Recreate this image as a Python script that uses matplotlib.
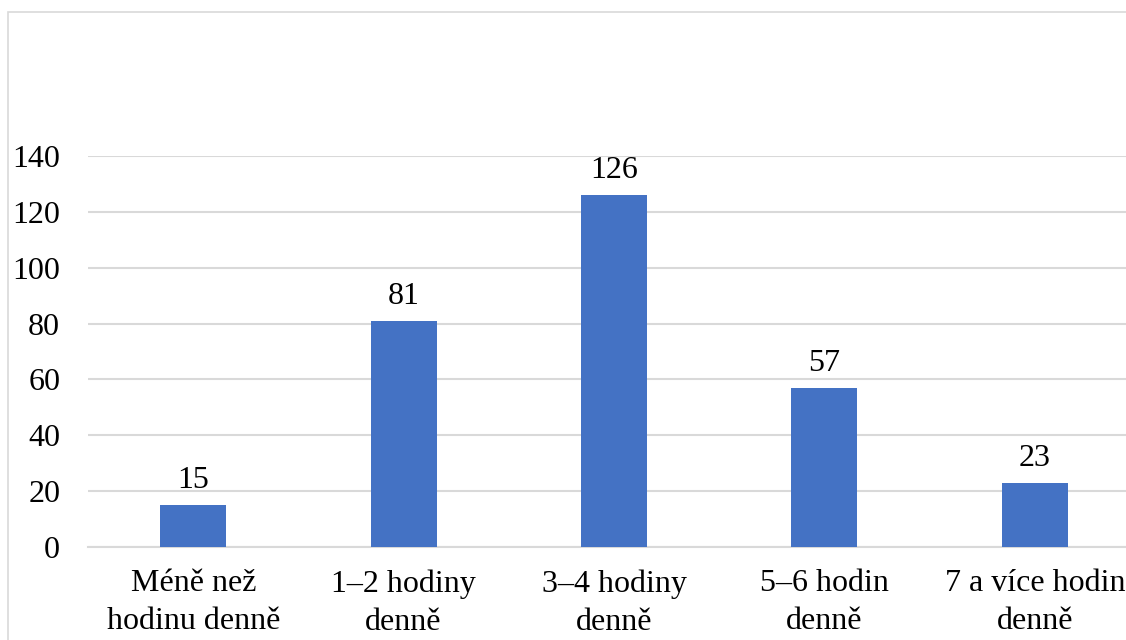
import matplotlib.pyplot as plt
from matplotlib.patches import Rectangle

# data
categories = ["Méně než\nhodinu denně", "1–2 hodiny\ndenně", "3–4 hodiny\ndenně",
              "5–6 hodin\ndenně", "7 a více hodin\ndenně"]
values = [15, 81, 126, 57, 23]
y_ticks = [0, 20, 40, 60, 80, 100, 120, 140]

plt.rcParams["font.family"] = ["Liberation Serif", "DejaVu Serif"]
plt.rcParams["font.size"] = 23

fig = plt.figure(figsize=(11.26, 6.4), dpi=100)

# chart border (cut off at right and bottom like the original)
fig.patches.append(Rectangle((8 / 1126, -0.1), 1.2, (640 - 12) / 640 + 0.1,
                             transform=fig.transFigure, fill=False,
                             edgecolor="#D9D9D9", linewidth=1.2))

ax = fig.add_axes([88 / 1126, 93 / 640, 1052 / 1126, 391 / 640])

x = range(len(categories))
bars = ax.bar(x, values, width=0.313, color="#4472C4", zorder=3)

for b, v in zip(bars, values):
    ax.annotate(str(v), (b.get_x() + b.get_width() / 2, v),
                xytext=(0, 7), textcoords="offset points",
                ha="center", va="bottom", fontsize=23)

ax.set_xlim(-0.5, len(categories) - 0.5)
ax.set_ylim(0, 140)
ax.set_yticks(y_ticks)
ax.set_xticks(list(x))
ax.set_xticklabels(categories, linespacing=1.4)
ax.yaxis.grid(True, color="#D9D9D9", linewidth=1.5, zorder=0)
ax.tick_params(axis="both", length=0)
ax.tick_params(axis="y", pad=20)
ax.tick_params(axis="x", pad=16)
for s in ["top", "right", "left"]:
    ax.spines[s].set_visible(False)
ax.spines["bottom"].set_color("#D9D9D9")
ax.spines["bottom"].set_linewidth(1.5)

plt.savefig("out.png", dpi=100)
